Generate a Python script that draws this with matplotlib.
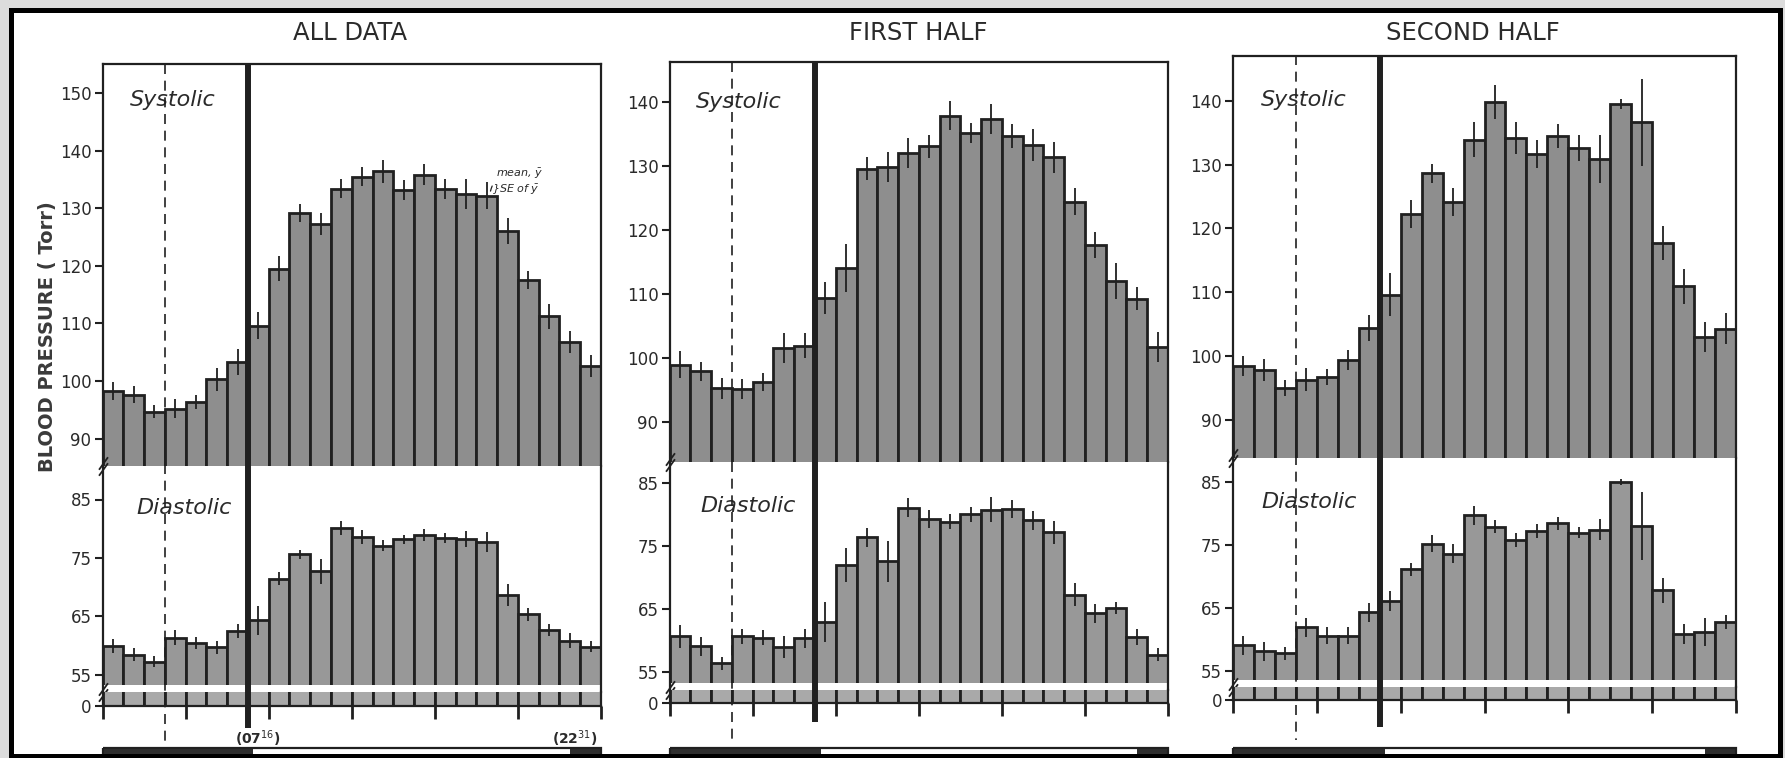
import numpy as np
import matplotlib
matplotlib.use('Agg')
import matplotlib.pyplot as plt
from matplotlib.patches import Rectangle

# one bar per hour of the day
hours = np.arange(24) + 0.5
hour_ticks = [0, 4, 8, 12, 16, 20, 24]

titles = ['ALL DATA', 'FIRST HALF', 'SECOND HALF']

all_sys = [98.3, 97.6, 94.7, 95.2, 96.3, 100.3, 103.3, 109.6, 119.5, 129.2, 127.3, 133.4,
           135.5, 136.4, 133.2, 135.8, 133.3, 132.4, 132.2, 126.0, 117.5, 111.2, 106.7, 102.6]
all_sys_se = [1.6, 1.5, 1.2, 1.6, 1.2, 2.0, 2.2, 2.3, 2.2, 1.6, 1.9, 1.7,
              1.7, 2.0, 1.7, 1.8, 1.7, 2.6, 2.3, 2.3, 1.6, 2.2, 1.9, 1.9]
all_dia = [59.9, 58.4, 57.2, 61.3, 60.4, 59.7, 62.4, 64.3, 71.4, 75.6, 72.7, 80.1,
           78.6, 77.1, 78.2, 78.9, 78.4, 78.2, 77.7, 68.6, 65.3, 62.6, 60.8, 59.8]
all_dia_se = [1.2, 1.1, 0.9, 1.3, 1.0, 1.1, 1.2, 2.5, 1.1, 0.8, 2.1, 1.2,
              1.2, 1.0, 0.8, 1.0, 0.9, 1.4, 1.7, 1.9, 1.1, 1.0, 1.3, 0.9]

first_sys = [99.0, 98.0, 95.3, 95.2, 96.3, 101.6, 102.0, 109.5, 114.1, 129.6, 129.9, 132.1,
             133.1, 137.9, 135.2, 137.4, 134.7, 133.4, 131.4, 124.5, 117.7, 112.1, 109.3, 101.8]
first_sys_se = [2.1, 1.5, 1.6, 1.6, 1.4, 2.3, 2.0, 2.5, 3.8, 1.8, 2.4, 2.3,
                1.8, 2.3, 1.5, 2.4, 1.9, 2.5, 2.4, 2.1, 2.0, 2.8, 1.8, 2.3]
first_dia = [60.7, 59.1, 56.4, 60.7, 60.5, 59.0, 60.4, 63.0, 72.0, 76.4, 72.6, 81.1,
             79.3, 78.9, 80.1, 80.8, 80.9, 79.1, 77.2, 67.3, 64.4, 65.2, 60.6, 57.8]
first_dia_se = [1.8, 1.5, 1.0, 1.2, 1.2, 1.8, 1.5, 3.2, 2.7, 1.5, 3.3, 1.5,
                1.4, 1.2, 1.2, 2.0, 1.4, 1.5, 1.8, 1.8, 1.5, 1.0, 1.3, 1.0]

second_sys = [98.4, 97.8, 95.0, 96.3, 96.7, 99.4, 104.4, 109.6, 122.2, 128.6, 124.1, 133.9,
              139.8, 134.1, 131.7, 134.5, 132.6, 130.9, 139.5, 136.6, 117.7, 110.9, 103.0, 104.3]
second_sys_se = [1.6, 1.7, 1.2, 1.8, 1.3, 1.6, 2.0, 3.4, 2.2, 1.5, 2.2, 2.7,
                 2.7, 2.5, 2.2, 1.9, 2.0, 3.8, 0.8, 6.8, 2.6, 2.8, 2.4, 2.4]
second_dia = [59.1, 58.1, 57.8, 61.9, 60.6, 60.6, 64.3, 66.1, 71.1, 75.2, 73.6, 79.7,
              77.9, 75.8, 77.2, 78.4, 76.9, 77.4, 84.9, 78.0, 67.8, 60.9, 61.2, 62.8]
second_dia_se = [1.5, 1.5, 1.0, 1.5, 1.3, 1.4, 1.5, 1.6, 1.0, 1.3, 1.5, 1.5,
                 1.1, 1.1, 1.1, 1.0, 0.9, 1.7, 0.5, 5.4, 2.0, 1.6, 2.2, 1.1]

sys_ticks = [[90, 100, 110, 120, 130, 140, 150],
             [90, 100, 110, 120, 130, 140],
             [90, 100, 110, 120, 130, 140]]
dia_ticks = [55, 65, 75, 85]

wake_hour = 7                   # thick solid line
dash_hour = 3                   # dashed line
lights_on = 7 + 16 / 60.        # (07:16)
lights_off = 22 + 31 / 60.      # (22:31)

panels = [(all_sys, all_sys_se, all_dia, all_dia_se),
          (first_sys, first_sys_se, first_dia, first_dia_se),
          (second_sys, second_sys_se, second_dia, second_dia_se)]

# ---- layout, in pixels of the 1785x758 picture ----
W, H = 1785, 758
# left, right, top, break, diastolic bottom, zero-axis
panel_px = [(102.5, 601, 64, 466, 692, 706),
            (669.6, 1168, 62, 462, 690, 703),
            (1233, 1736, 55.5, 458, 687, 700)]
# two ticks (value, pixel row) per section, sets the scale
sys_ref = [((150, 93), (100, 381)), ((140, 102.3), (100, 358.3)), ((140, 100.7), (100, 356))]
dia_ref = [((85, 499.5), (55, 674.5)), ((85, 483.3), (55, 672.3)), ((85, 481.7), (55, 671))]
solid_end = [728, 722, 727]
dash_end = [745, 742, 740]
sys_label_px = [(130, 100), (696, 102), (1261, 100)]
dia_label_px = [(136, 508), (700, 506), (1261, 502)]
title_px = [(350, 33), (918, 33), (1473, 33)]

INK = '#202020'
TXT = '#2a2a2a'
SYS_COL = '#8e8e8e'
DIA_COL = '#989898'
ZERO_COL = '#a9a9a9'


def px_value(ref, px):
    (a, pa), (b, pb) = ref
    k = (pb - pa) / float(a - b)
    return a + (pa - px) / k


def rect(x0, x1, top, bot):
    return [x0 / W, 1 - bot / H, (x1 - x0) / W, (bot - top) / H]


def style_axes(ax, top=False, bottom=False):
    for side in ['left', 'right', 'top', 'bottom']:
        ax.spines[side].set_linewidth(1.6)
        ax.spines[side].set_color(INK)
    ax.spines['top'].set_visible(top)
    ax.spines['bottom'].set_visible(bottom)
    ax.set_xlim(0, 24)
    ax.tick_params(axis='y', direction='out', length=6, width=1.5, labelsize=12,
                   pad=2, color=INK, labelcolor=TXT, right=False)
    ax.tick_params(axis='x', bottom=False, labelbottom=False)


def draw_bars(ax, vals, se, color):
    ax.bar(hours, vals, width=1.0, color=color, edgecolor=INK, linewidth=2.0, zorder=1)
    if se is not None:
        ax.errorbar(hours, vals, yerr=se, fmt='none', ecolor=INK, elinewidth=1.3,
                    capsize=0, zorder=2)


def break_marks(ax, y):
    kw = dict(marker=[(-1, -1.4), (1, 1.4)], markersize=9, linestyle='none',
              color=INK, mec=INK, mew=1.3, clip_on=False, transform=ax.transAxes, zorder=5)
    ax.plot([0, 0], [y + 0.012, y - 0.012], **kw)


fig = plt.figure(figsize=(W / 100., H / 100.), dpi=100)
fig.patch.set_facecolor('#dcdcdc')
fig.patches.append(Rectangle((10.5 / W, 0), (1780 - 10.5) / W, 1 - 9.5 / H,
                             transform=fig.transFigure, facecolor='white',
                             edgecolor='none', zorder=-5))
fig.patches.append(Rectangle((10.5 / W, 2.5 / H), (1780 - 10.5) / W, 1 - 12 / H,
                             transform=fig.transFigure, fill=False,
                             edgecolor='black', linewidth=3.6, zorder=20))

for i, (sys_v, sys_se, dia_v, dia_se) in enumerate(panels):
    x0, x1, top, brk, dbot, zbot = panel_px[i]

    # systolic section
    ax_s = fig.add_axes(rect(x0, x1, top, brk))
    style_axes(ax_s, top=True)
    draw_bars(ax_s, sys_v, sys_se, SYS_COL)
    ax_s.set_ylim(px_value(sys_ref[i], brk), px_value(sys_ref[i], top))
    ax_s.set_yticks(sys_ticks[i])

    # diastolic section, white band at its bottom
    ax_d = fig.add_axes(rect(x0, x1, brk, dbot))
    style_axes(ax_d)
    draw_bars(ax_d, dia_v, dia_se, DIA_COL)
    d_lo = px_value(dia_ref[i], dbot)
    ax_d.set_ylim(d_lo, px_value(dia_ref[i], brk))
    ax_d.axhspan(d_lo, px_value(dia_ref[i], dbot - 7), color='white', lw=0, zorder=2.2)
    ax_d.set_yticks(dia_ticks)

    # zero strip
    ax_z = fig.add_axes(rect(x0, x1, dbot, zbot))
    style_axes(ax_z, bottom=True)
    draw_bars(ax_z, dia_v, None, ZERO_COL)
    ax_z.set_ylim(0, 1)
    ax_z.set_yticks([0])
    ax_z.set_xticks(hour_ticks)
    ax_z.tick_params(axis='x', bottom=True, direction='out', length=9, width=2, color=INK)

    break_marks(ax_d, 1.0)
    break_marks(ax_d, 0.0)

    # labels inside the frame
    sx, sy = sys_label_px[i]
    fig.text(sx / W, 1 - sy / H, 'Systolic', style='italic', fontsize=16,
             color=TXT, va='center', ha='left')
    dx, dy = dia_label_px[i]
    fig.text(dx / W, 1 - dy / H, 'Diastolic', style='italic', fontsize=16,
             color=TXT, va='center', ha='left')
    tx, ty = title_px[i]
    fig.text(tx / W, 1 - ty / H, titles[i], fontsize=17.5, color=TXT,
             ha='center', va='center')

    # overlay for the long vertical lines and light/dark bar (y in pixel rows)
    ax_o = fig.add_axes(rect(x0, x1, top, H), zorder=5)
    ax_o.set_xlim(0, 24)
    ax_o.set_ylim(H, top)
    ax_o.axis('off')
    ax_o.vlines(wake_hour, top, solid_end[i], color=INK, linewidth=4.3)
    ax_o.vlines(dash_hour, top, dash_end[i], color=INK, linewidth=1.2,
                linestyles=(0, (6, 4)))
    ax_o.broken_barh([(0, lights_on), (lights_off, 24 - lights_off)], (748, 14),
                     facecolors='#2e2e2e', edgecolor='none', clip_on=False)
    ax_o.add_patch(Rectangle((0, 748), 24, 14, fill=False, edgecolor=INK,
                             linewidth=1.6, clip_on=False))

    if i == 0:
        ax_o.text(lights_on + 0.2, 739, '(07$^{16}$)', fontsize=10, fontweight='bold',
                  ha='center', va='center', color=TXT)
        ax_o.text(lights_off + 0.2, 739, '(22$^{31}$)', fontsize=10, fontweight='bold',
                  ha='center', va='center', color=TXT)
        # mean / SE key on bar 19
        k = 18
        ax_s.annotate(r'mean, $\bar{y}$', xy=(hours[k] + 0.15, all_sys[k] + 0.3),
                      xytext=(hours[k] + 0.45, all_sys[k] + 3.8), fontsize=8,
                      style='italic', color=TXT, va='center', ha='left',
                      arrowprops=dict(arrowstyle='-', color=INK, lw=0.9,
                                      connectionstyle='arc3,rad=0.5'))
        ax_s.text(hours[k] + 0.25, all_sys[k] + 1.0, r'}SE of $\bar{y}$', fontsize=8,
                  style='italic', color=TXT, va='center', ha='left')

fig.text(47 / W, 1 - 337 / H, 'BLOOD PRESSURE ( Torr)', rotation=90, fontsize=14,
         fontweight='bold', color='#3a3a3a', ha='center', va='center')

plt.savefig('out.png', dpi=100, facecolor=fig.get_facecolor())
